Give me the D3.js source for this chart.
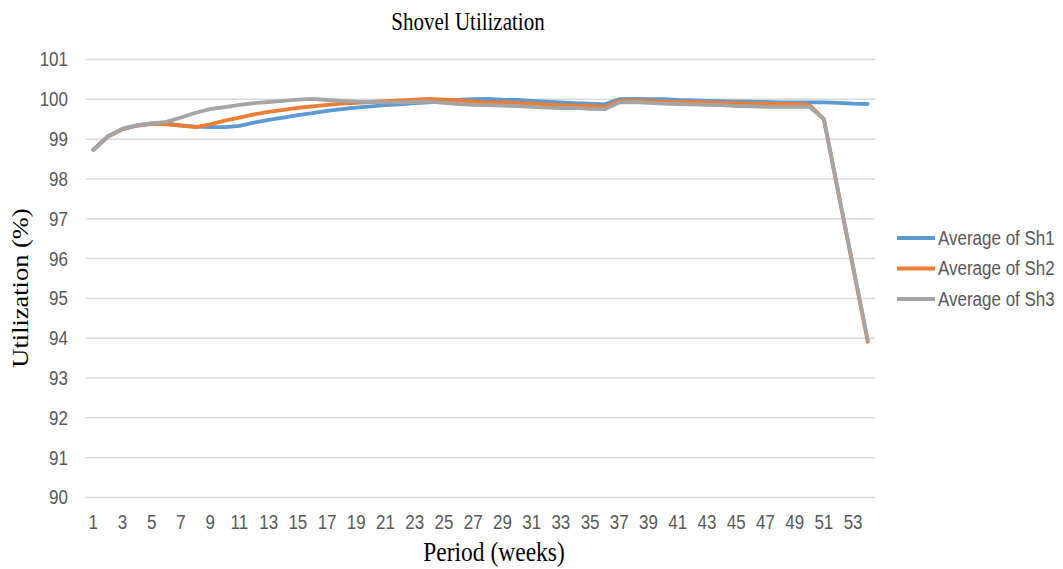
<!DOCTYPE html>
<html>
<head>
<meta charset="utf-8">
<script src="https://cdn.jsdelivr.net/npm/d3@7"></script>
<style>
  html, body { margin: 0; padding: 0; background: #fff; }
  svg { display: block; }
</style>
</head>
<body>
<svg id="chart" width="1063" height="569"></svg>
<script>
// Weekly shovel utilization (%), averaged per shovel
const weeks = d3.range(1, 55);
const sh1 = [
  98.72, 99.05, 99.24, 99.33, 99.38, 99.38, 99.33, 99.30, 99.29, 99.29,
  99.32, 99.40, 99.47, 99.53, 99.59, 99.64, 99.70, 99.74, 99.78, 99.81,
  99.84, 99.86, 99.89, 99.91, 99.94, 99.97, 99.99, 100.00, 99.98, 99.97,
  99.95, 99.93, 99.91, 99.89, 99.88, 99.86, 99.99, 100.00, 99.99, 99.99,
  99.97, 99.96, 99.95, 99.94, 99.93, 99.93, 99.92, 99.91, 99.91, 99.91,
  99.91, 99.90, 99.88, 99.87
];
const sh2 = [
  98.72, 99.05, 99.24, 99.33, 99.37, 99.36, 99.33, 99.29, 99.36, 99.45,
  99.53, 99.61, 99.67, 99.72, 99.77, 99.81, 99.85, 99.88, 99.90, 99.92,
  99.94, 99.96, 99.98, 100.00, 99.98, 99.96, 99.93, 99.91, 99.91, 99.90,
  99.88, 99.86, 99.84, 99.83, 99.82, 99.80, 99.95, 99.96, 99.95, 99.93,
  99.92, 99.92, 99.91, 99.90, 99.89, 99.88, 99.88, 99.87, 99.87, 99.85,
  99.49, 97.62, 95.76, 93.90
];
const sh3 = [
  98.72, 99.06, 99.25, 99.34, 99.38, 99.42, 99.53, 99.65, 99.74, 99.79,
  99.85, 99.89, 99.92, 99.95, 99.98, 100.00, 99.97, 99.95, 99.93, 99.92,
  99.91, 99.91, 99.92, 99.93, 99.90, 99.87, 99.85, 99.84, 99.83, 99.82,
  99.80, 99.78, 99.77, 99.77, 99.75, 99.74, 99.91, 99.92, 99.90, 99.88,
  99.87, 99.86, 99.85, 99.84, 99.82, 99.81, 99.80, 99.80, 99.80, 99.80,
  99.49, 97.64, 95.80, 93.95
];
const seriesNames = ["Average of Sh1", "Average of Sh2", "Average of Sh3"];
const yTicks = d3.range(90, 102);
const xTicks = weeks.filter(w => w % 2 === 1);

const colors = ["#5B9BD5", "#ED7D31", "#A5A5A5"];
const series = [sh1, sh2, sh3];

const svg = d3.select("#chart");
const plot = { left: 86, right: 875, top: 59, bottom: 497 };
const stretch = 1.15; // glyphs are set slightly taller than wide

const x = d3.scaleBand().domain(weeks).range([plot.left, plot.right]);
const cx = w => x(w) + x.bandwidth() / 2;
const y = d3.scaleLinear().domain([90, 101]).range([plot.bottom, plot.top]);

// Horizontal gridlines + y tick labels
const yAxis = d3.axisLeft(y)
  .tickValues(yTicks)
  .tickSize(-(plot.right - plot.left))
  .tickPadding(18)
  .tickFormat(d3.format("d"));
const gy = svg.append("g")
  .attr("transform", `translate(${plot.left},0)`)
  .call(yAxis);
gy.select(".domain").remove();
gy.selectAll(".tick line").attr("stroke", "#D9D9D9").attr("stroke-width", 1.5);
gy.selectAll(".tick text")
  .attr("fill", "#595959")
  .attr("font-family", "Liberation Sans, Arial, sans-serif")
  .attr("font-size", 17)
  .attr("x", null).attr("dy", null)
  .attr("dominant-baseline", "central")
  .attr("transform", `translate(-18,0) scale(1,${stretch})`);

// Category axis labels
const xAxis = d3.axisBottom(x).tickValues(xTicks).tickSize(0).tickPadding(0);
const gx = svg.append("g")
  .attr("transform", `translate(0,${plot.bottom})`)
  .call(xAxis);
gx.select(".domain").remove();
gx.selectAll(".tick text")
  .attr("fill", "#595959")
  .attr("font-family", "Liberation Sans, Arial, sans-serif")
  .attr("font-size", 17)
  .attr("y", null).attr("dy", null)
  .attr("dominant-baseline", "central")
  .attr("transform", `translate(0,25) scale(1,${stretch})`);

// Series lines
const line = d3.line().x((d, i) => cx(weeks[i])).y(d => y(d));
series.forEach((s, i) => {
  svg.append("path")
    .datum(s)
    .attr("fill", "none")
    .attr("stroke", colors[i])
    .attr("stroke-width", 3.8)
    .attr("stroke-linejoin", "round")
    .attr("stroke-linecap", "round")
    .attr("d", line);
});

// Titles
svg.append("text")
  .attr("transform", `translate(468,22) scale(1,${stretch})`)
  .attr("text-anchor", "middle")
  .attr("dominant-baseline", "central")
  .attr("font-family", "Liberation Serif, Times New Roman, serif")
  .attr("font-size", 21)
  .attr("fill", "#000")
  .text("Shovel Utilization");

svg.append("text")
  .attr("transform", `translate(494,551) scale(1,${stretch})`)
  .attr("text-anchor", "middle")
  .attr("dominant-baseline", "central")
  .attr("font-family", "Liberation Serif, Times New Roman, serif")
  .attr("font-size", 23.5)
  .attr("fill", "#000")
  .text("Period (weeks)");

svg.append("text")
  .attr("transform", `translate(20,288) scale(1,${stretch}) rotate(-90)`)
  .attr("text-anchor", "middle")
  .attr("dominant-baseline", "central")
  .attr("font-family", "Liberation Serif, Times New Roman, serif")
  .attr("font-size", 23)
  .attr("fill", "#000")
  .text("Utilization (%)");

// Legend
const legendY = d3.scalePoint().domain(seriesNames).range([238, 299]);
const lg = svg.append("g");
seriesNames.forEach((name, i) => {
  const ly = legendY(name);
  lg.append("line")
    .attr("x1", 897).attr("x2", 935)
    .attr("y1", ly).attr("y2", ly)
    .attr("stroke", colors[i])
    .attr("stroke-width", 3.8);
  lg.append("text")
    .attr("transform", `translate(938,${ly}) scale(1,${stretch})`)
    .attr("dominant-baseline", "central")
    .attr("font-family", "Liberation Sans, Arial, sans-serif")
    .attr("font-size", 17)
    .attr("fill", "#595959")
    .text(name);
});
</script>
</body>
</html>
